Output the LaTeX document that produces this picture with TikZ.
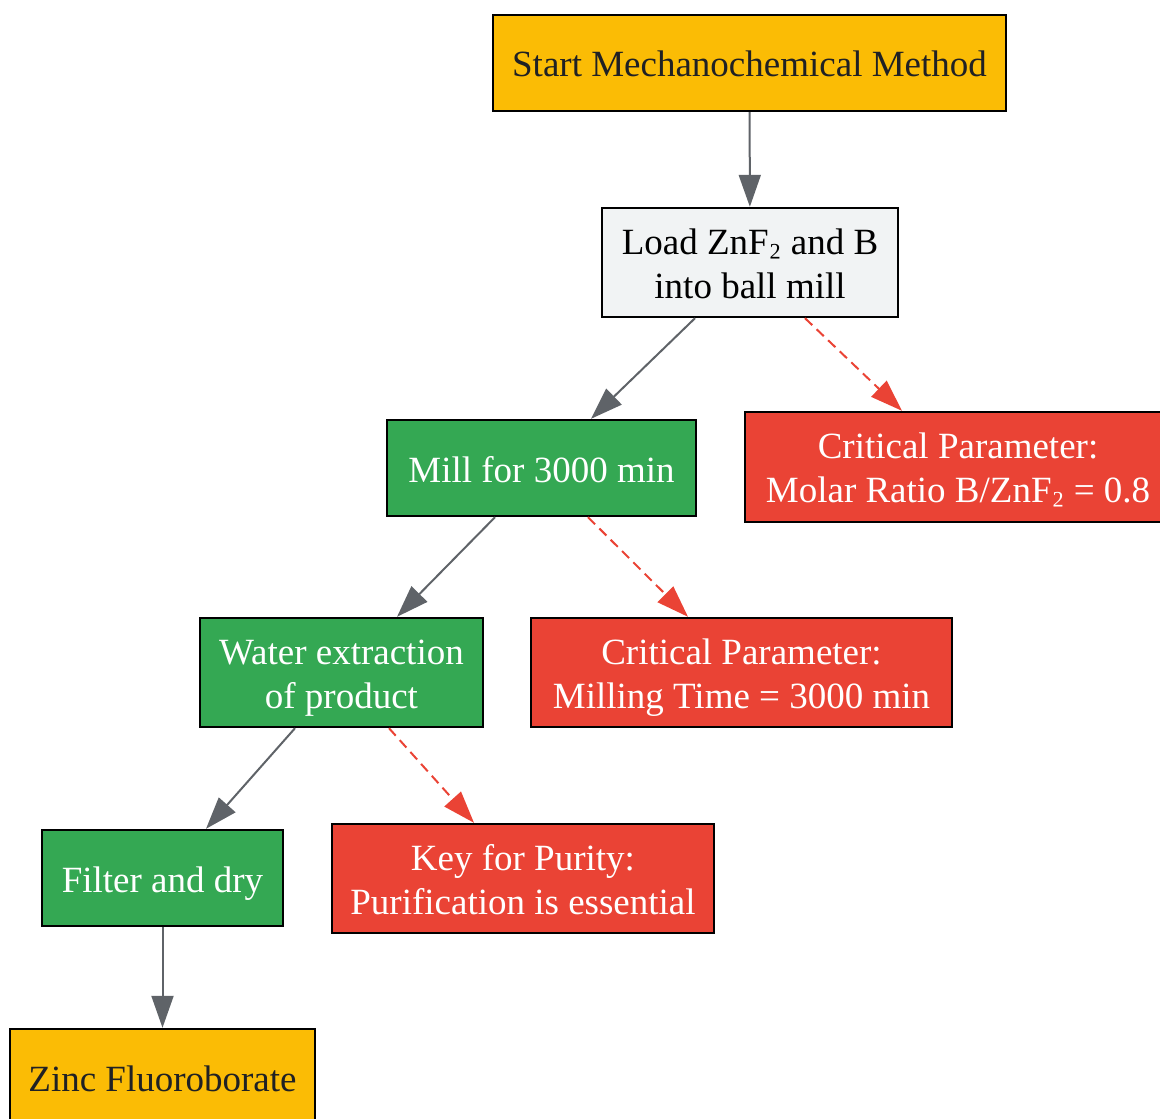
\documentclass[tikz,border=0pt]{standalone}
\usepackage{fontspec}
\setmainfont{Liberation Serif}
\usetikzlibrary{arrows.meta}
\definecolor{gyellow}{HTML}{FBBC05}
\definecolor{glight}{HTML}{F1F3F4}
\definecolor{ggreen}{HTML}{34A853}
\definecolor{gred}{HTML}{EA4335}
\definecolor{gedge}{HTML}{5F6368}
\definecolor{gdark}{HTML}{202124}
\newcommand{\subtwo}{\raisebox{1.5pt}{₂}}
\begin{document}
\begin{tikzpicture}[x=0.5pt,y=-0.5pt,
    box/.style={draw=black,line width=1.2pt,inner sep=0pt,align=center,
      font=\fontsize{18.5}{22}\selectfont},
    onerow/.style={text height=14pt,text depth=0pt,minimum height=48pt},
    tworow/.style={text height=35.5pt,text depth=0pt,minimum height=54.5pt},
    endbox/.style={box,fill=gyellow,text=gdark},
    loadbox/.style={box,fill=glight,text=black},
    stepbox/.style={box,fill=ggreen,text=white},
    critbox/.style={box,fill=gred,text=white},
    flow/.style={draw=gedge,line width=1pt,-{Triangle[length=16pt,width=11pt]}},
    critflow/.style={draw=gred,line width=1pt,dash pattern=on 5pt off 3pt,
      -{Triangle[length=16pt,width=11pt]}}]
  \useasboundingbox (0,0) rectangle (1160,1118);
  \node[endbox,onerow,minimum width=256.5pt] (start) at (749.5,63) {Start Mechanochemical Method};
  \node[loadbox,tworow,minimum width=148pt] (load) at (750,262.5) {Load ZnF\subtwo{} and B\\into ball mill};
  \node[stepbox,onerow,minimum width=154.5pt] (mill) at (541.5,468) {Mill for 3000 min};
  \node[critbox,tworow,minimum width=213pt,minimum height=55pt] (ratio) at (958,467) {Critical Parameter:\\Molar Ratio B/ZnF\subtwo{} = 0.8};
  \node[stepbox,tworow,minimum width=141.5pt] (water) at (341.5,672.5) {Water extraction\\of product};
  \node[critbox,tworow,minimum width=210.5pt] (time) at (741.5,672.5) {Critical Parameter:\\Milling Time = 3000 min};
  \node[stepbox,onerow,minimum width=120.5pt] (filter) at (162.5,878) {Filter and dry};
  \node[critbox,tworow,minimum width=191pt] (purity) at (523,878.5) {Key for Purity:\\Purification is essential};
  \node[endbox,onerow,minimum width=152.5pt] (zinc) at (162.5,1077) {Zinc Fluoroborate};

  \draw[flow] (start) -- (load);
  \draw[flow] ([xshift=-27.5pt]load.south) -- ([xshift=24.75pt]mill.north);
  \draw[critflow] ([xshift=27.5pt]load.south) -- ([xshift=-28pt]ratio.north);
  \draw[flow] ([xshift=-23.25pt]mill.south) -- ([xshift=27.75pt]water.north);
  \draw[critflow] ([xshift=23.25pt]mill.south) -- ([xshift=-26.75pt]time.north);
  \draw[flow] ([xshift=-23.25pt]water.south) -- ([xshift=21.75pt]filter.north);
  \draw[critflow] ([xshift=23.75pt]water.south) -- ([xshift=-24.5pt]purity.north);
  \draw[flow] (filter) -- (zinc);
\end{tikzpicture}
\end{document}
